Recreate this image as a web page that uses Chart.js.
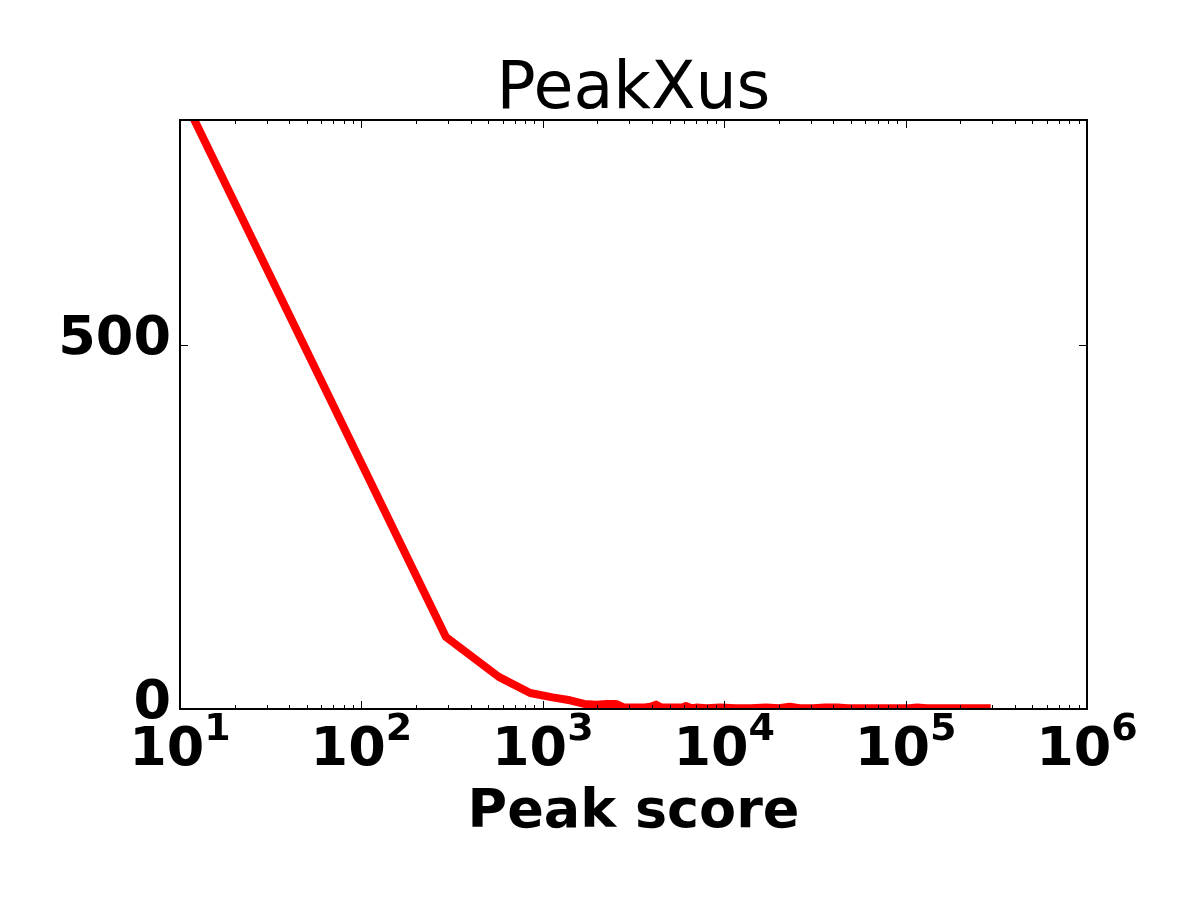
<!DOCTYPE html>
<html>
<head>
<meta charset="utf-8">
<title>PeakXus</title>
<script src="https://cdn.jsdelivr.net/npm/chart.js@4.4.1/dist/chart.umd.min.js"></script>
<style>
  html, body { margin: 0; padding: 0; background: #fff; }
  #wrap { width: 1200px; height: 900px; }
</style>
</head>
<body>
<div id="wrap"><canvas id="peaks"></canvas></div>
<script>
  "use strict";

  // Histogram of peak scores
  const peakScore = [12, 292, 572, 852, 1132, 1412, 1692, 1972, 2252, 2532,
    2812, 3092, 3372, 3652, 3932, 4212, 4492, 4772, 5052, 5332,
    5612, 5892, 6172, 6452, 6732, 7012,
    8000, 9500, 11500, 14000, 17000, 20000, 23000, 26000, 31000, 36000,
    42000, 48000, 56000, 66000, 78000, 92000, 105000, 116000, 130000,
    150000, 175000, 200000, 230000, 255000, 280000];
  const peakCount = [808, 99, 44, 22, 16, 12, 7, 6, 7, 7,
    2, 2, 2, 2, 3, 6, 2, 2, 2, 2,
    2, 2, 4, 2, 1, 2,
    1, 2, 1, 1, 2, 1, 3, 1, 1, 2,
    2, 1, 1, 1, 1, 1, 1, 2, 1,
    1, 1, 1, 1, 1, 1];

  // Axes
  const xTickExponents = [1, 2, 3, 4, 5, 6];
  const xMinorFactors = [2, 3, 4, 5, 6, 7, 8, 9];
  const yTicks = [0, 500];
  const yMax = 808;

  const FONT = "'DejaVu Sans', 'Liberation Sans', sans-serif";

  // matplotlib-like frame: spines plus inward ticks on all four sides
  const axesFrame = {
    id: 'axesFrame',
    afterDatasetsDraw(chart) {
      const { ctx, chartArea: a, scales: { x, y } } = chart;
      ctx.save();
      ctx.strokeStyle = '#000';
      ctx.lineWidth = 1;
      ctx.beginPath();
      const vTick = function (v, len) {
        const px = Math.round(x.getPixelForValue(v)) + 0.5;
        ctx.moveTo(px, a.bottom); ctx.lineTo(px, a.bottom - len);
        ctx.moveTo(px, a.top); ctx.lineTo(px, a.top + len);
      };
      xTickExponents.forEach(function (e, i) {
        vTick(Math.pow(10, e), 8);
        if (i < xTickExponents.length - 1) {
          xMinorFactors.forEach(function (f) { vTick(f * Math.pow(10, e), 4); });
        }
      });
      yTicks.forEach(function (v) {
        const py = Math.round(y.getPixelForValue(v)) + 0.5;
        ctx.moveTo(a.left, py); ctx.lineTo(a.left + 8, py);
        ctx.moveTo(a.right, py); ctx.lineTo(a.right - 8, py);
      });
      ctx.stroke();
      ctx.lineWidth = 2;
      ctx.strokeRect(a.left, a.top, a.right - a.left, a.bottom - a.top);
      ctx.restore();
    },
    afterDraw(chart) {
      // 10^n labels with raised exponent
      const { ctx, chartArea: a, scales: { x } } = chart;
      const big = "bold 54px " + FONT;
      const small = "bold 38px " + FONT;
      ctx.save();
      ctx.fillStyle = '#000';
      ctx.textBaseline = 'alphabetic';
      ctx.textAlign = 'left';
      xTickExponents.forEach(function (e) {
        const px = x.getPixelForValue(Math.pow(10, e));
        ctx.font = big;
        const w1 = ctx.measureText('10').width;
        ctx.font = small;
        const w2 = ctx.measureText(String(e)).width;
        const start = px - (w1 + w2) / 2;
        ctx.font = big;
        ctx.fillText('10', start, a.bottom + 56);
        ctx.font = small;
        ctx.fillText(String(e), start + w1, a.bottom + 31);
      });
      ctx.restore();
    }
  };

  const ctx = document.getElementById('peaks').getContext('2d');
  const peakChart = new Chart(ctx, {
    type: 'line',
    data: {
      datasets: [{
        label: 'PeakXus',
        data: peakScore.map(function (s, i) { return { x: s, y: peakCount[i] }; }),
        borderColor: '#ff0000',
        borderWidth: 8,
        borderCapStyle: 'square',
        borderJoinStyle: 'round',
        pointRadius: 0,
        tension: 0,
        fill: false,
        clip: 0
      }]
    },
    options: {
      responsive: true,
      maintainAspectRatio: false,
      animation: false,
      layout: { padding: { left: 0, right: 113, top: 0, bottom: 0 } },
      scales: {
        x: {
          type: 'logarithmic',
          min: 10,
          max: 1e6,
          grid: { display: false, drawTicks: false },
          border: { display: false },
          ticks: { display: false },
          title: {
            display: true,
            text: 'Peak score',
            color: '#000',
            font: { family: FONT, size: 54, weight: 'bold', lineHeight: 1.2 },
            padding: { top: 0, bottom: 54.5 }
          },
          afterFit: function (scale) { scale.height = 191; }
        },
        y: {
          type: 'linear',
          min: 0,
          max: yMax,
          grid: { display: false, drawTicks: false },
          border: { display: false },
          ticks: {
            color: '#000',
            font: { family: FONT, size: 54, weight: 'bold' },
            padding: 9,
            labelOffset: -5
          },
          afterBuildTicks: function (scale) {
            scale.ticks = yTicks.map(function (v) { return { value: v }; });
          },
          afterFit: function (scale) { scale.width = 180; }
        }
      },
      plugins: {
        legend: { display: false },
        tooltip: { enabled: false },
        title: {
          display: true,
          text: 'PeakXus',
          fullSize: false,
          color: '#000',
          font: { family: FONT, size: 65, weight: 'normal', lineHeight: 1 },
          padding: { top: 59, bottom: -4 }
        }
      }
    },
    plugins: [axesFrame]
  });
</script>
</body>
</html>
